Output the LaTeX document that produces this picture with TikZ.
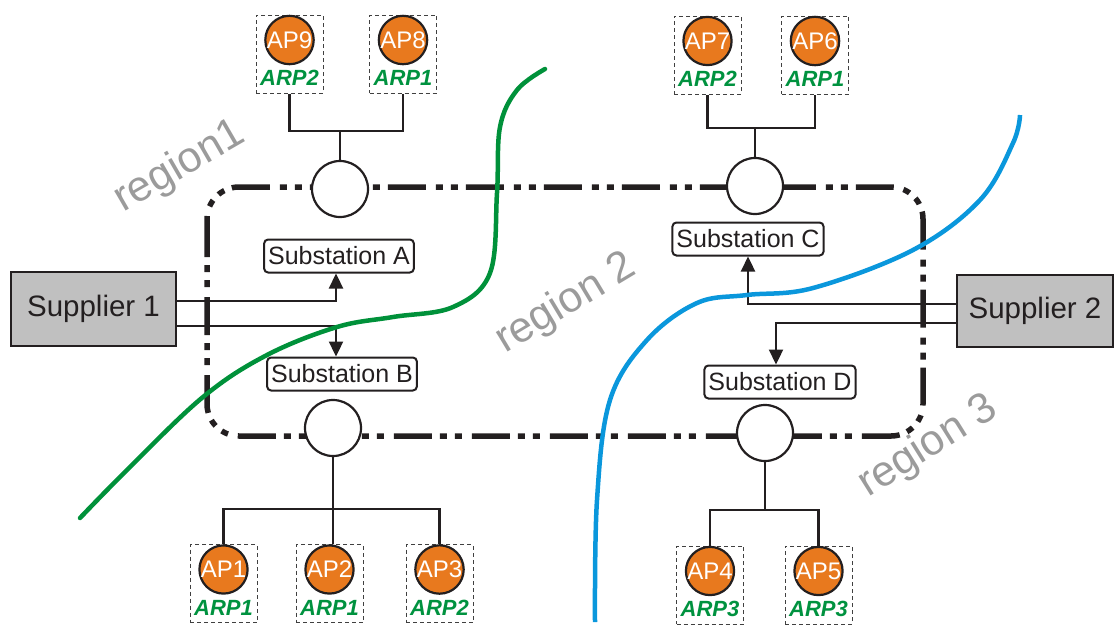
\documentclass[tikz,border=0pt]{standalone}
\usepackage{fontspec}
\setmainfont{Liberation Sans}
\usetikzlibrary{arrows.meta,calc}
\definecolor{apor}{HTML}{E8791E}
\definecolor{arpg}{HTML}{00923F}
\definecolor{grn}{HTML}{00913A}
\definecolor{blu}{HTML}{0A97DC}
\definecolor{reg}{HTML}{9B9B9B}
\definecolor{supf}{HTML}{C0C0C0}
\definecolor{ink}{HTML}{231F20}
\newcommand\apunit[5]{%
  \node[apbox] (#1) at (#2,#3) {};
  \node[ap] (#1c) at ($(#1)+(0,-14)$) {#4};
  \node[arp] (#1t) at ($(#1)+(0,24)$) {#5};}
\begin{document}
\begin{tikzpicture}[x=1pt,y=-1pt,
  wire/.style={line width=2.3pt, draw=ink},
  arr/.style={wire, -{Triangle[length=15pt,width=14pt]}},
  sub/.style={draw=ink, line width=2pt, rounded corners=4pt, fill=white, minimum height=33pt, inner xsep=4pt, inner ysep=0pt, text=ink, font=\fontsize{25}{25}\selectfont},
  sup/.style={draw=ink, line width=2pt, fill=supf, text=ink, font=\fontsize{29.5}{29.5}\selectfont, inner sep=0pt},
  bus/.style={circle, draw=ink, line width=2.2pt, fill=white, minimum size=56pt, inner sep=0pt},
  apbox/.style={draw=black!75, dash pattern=on 4pt off 3pt, line width=1pt, minimum width=67pt, minimum height=78pt, inner sep=0pt},
  ap/.style={circle, draw=ink, line width=2.2pt, fill=apor, minimum size=47pt, inner sep=0pt, text=white, font=\fontsize{24}{24}\selectfont},
  arp/.style={text=arpg, inner sep=0pt, font=\fontsize{22}{22}\selectfont\bfseries\itshape},
  region/.style={text=reg, inner sep=0pt, font=\fontsize{43}{43}\selectfont},
  ring/.style={draw=ink, line width=5.5pt, dash pattern=on 38pt off 8pt on 7pt off 8pt on 7pt off 10pt, rounded corners=32pt}
]
\useasboundingbox (0,0) rectangle (1115,624);

% ring
\draw[ring] (207,187) rectangle (923,436);

% region labels
\node[region, rotate=30] (r1) at (180,167) {region1};
\node[region, rotate=31] (r2) at (566,304) {region 2};
\node[region, rotate=32] (r3) at (928,447) {region 3};

% buses
\node[bus] (busA) at (340,189) {};
\node[bus] (busC) at (755,186) {};
\node[bus] (busB) at (333,428) {};
\node[bus] (busD) at (765,433) {};

% substations
\node[sub] (subA) at (339,256) {Substation A};
\node[sub] (subB) at (342,374) {Substation B};
\node[sub] (subC) at (748,239) {Substation C};
\node[sub] (subD) at (780,382) {Substation D};

% suppliers
\node[sup, minimum width=165pt, minimum height=74pt] (sup1) at (93.5,309) {Supplier 1};
\node[sup, minimum width=156pt, minimum height=72pt] (sup2) at (1035,311) {Supplier 2};

% AP units
\apunit{b9}{289.5}{54}{AP9}{ARP2}
\apunit{b8}{403}{54}{AP8}{ARP1}
\apunit{b7}{707.5}{55}{AP7}{ARP2}
\apunit{b6}{815}{55}{AP6}{ARP1}
\apunit{b1}{223.5}{583.5}{AP1}{ARP1}
\apunit{b2}{329.5}{583.5}{AP2}{ARP1}
\apunit{b3}{439.5}{583.5}{AP3}{ARP2}
\apunit{b4}{710}{585}{AP4}{ARP3}
\apunit{b5}{818.5}{585}{AP5}{ARP3}

% feeder wires
\coordinate (jA) at (340,131);
\coordinate (jC) at (755,128);
\coordinate (jB) at (333,509);
\coordinate (jD) at (765,510);
\draw[wire] (b9.south) |- (jA) -| (b8.south);
\draw[wire] (jA) -- (busA.north);
\draw[wire] (b7.south) |- (jC) -| (b6.south);
\draw[wire] (jC) -- (busC.north);
\draw[wire] (b1.north) |- (jB) -| (b3.north);
\draw[wire] (busB.south) -- (busB.south |- b2.north);
\draw[wire] (b4.north) |- (jD) -| (b5.north);
\draw[wire] (busD.south) -- (jD);

% supply arrows
\draw[arr] ([yshift=8pt]sup1.east) -| ([xshift=-3pt]subA.south);
\draw[arr] ([yshift=-17pt]sup1.east) -| ([xshift=-6pt]subB.north);
\draw[arr] ([yshift=7pt]sup2.west) -| (subC.south);
\draw[arr] ([yshift=-12pt]sup2.west) -| ([xshift=-4pt]subD.north);

% region boundaries
\draw[grn, line width=4.5pt, line cap=round] plot[smooth, tension=0.6] coordinates {(80,518) (127,470) (203,397) (267,355) (337,327) (393,317) (453,307) (490,273) (497,193) (500,127) (517,90) (545,69)};
\draw[blu, line width=4.5pt] plot[smooth, tension=0.6] coordinates {(595,622) (597,500) (610,400) (647,340) (697,303) (747,295) (813,288) (913,250) (980,200) (1013,143) (1020,115)};
\end{tikzpicture}
\end{document}
